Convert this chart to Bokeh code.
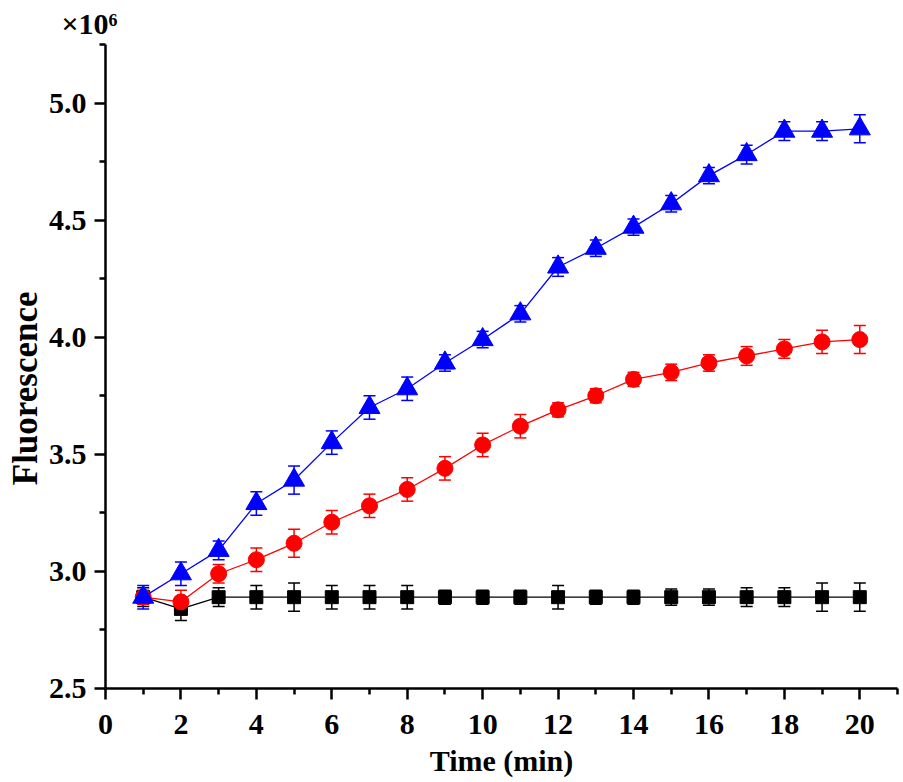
from bokeh.plotting import figure
from bokeh.models import ColumnDataSource, Whisker, TeeHead, FixedTicker, Range1d, Title, NumeralTickFormatter
from bokeh.embed import file_html
from bokeh.resources import INLINE

# ---- data ----
time_min = [1, 2, 3, 4, 5, 6, 7, 8, 9, 10, 11, 12, 13, 14, 15, 16, 17, 18, 19, 20]

control = [2.89, 2.84, 2.89, 2.89, 2.89, 2.89, 2.89, 2.89, 2.89, 2.89,
           2.89, 2.89, 2.89, 2.89, 2.89, 2.89, 2.89, 2.89, 2.89, 2.89]
control_err = [0.04, 0.05, 0.04, 0.05, 0.06, 0.05, 0.05, 0.05, 0.03, 0.03,
               0.03, 0.05, 0.03, 0.03, 0.035, 0.035, 0.04, 0.04, 0.06, 0.06]

red = [2.89, 2.87, 2.99, 3.05, 3.12, 3.21, 3.28, 3.35, 3.44, 3.54,
       3.62, 3.69, 3.75, 3.82, 3.85, 3.89, 3.92, 3.95, 3.98, 3.99]
red_err = [0.03, 0.05, 0.04, 0.05, 0.06, 0.05, 0.05, 0.05, 0.05, 0.05,
           0.05, 0.03, 0.03, 0.03, 0.035, 0.035, 0.04, 0.04, 0.05, 0.06]

blue = [2.89, 2.99, 3.09, 3.29, 3.39, 3.55, 3.70, 3.78, 3.89, 3.99,
        4.10, 4.30, 4.38, 4.47, 4.57, 4.69, 4.78, 4.88, 4.88, 4.89]
blue_err = [0.05, 0.05, 0.04, 0.05, 0.06, 0.05, 0.05, 0.05, 0.035, 0.035,
            0.035, 0.04, 0.035, 0.035, 0.035, 0.035, 0.04, 0.04, 0.04, 0.06]

x_major = [0, 2, 4, 6, 8, 10, 12, 14, 16, 18, 20]
x_minor = [1, 3, 5, 7, 9, 11, 13, 15, 17, 19, 21]
y_major = [2.5, 3.0, 3.5, 4.0, 4.5, 5.0]
y_minor = [2.75, 3.25, 3.75, 4.25, 4.75, 5.25]

FONT = "Liberation Serif"

p = figure(width=903, height=782, output_backend="svg", toolbar_location=None,
           x_range=Range1d(0, 21), y_range=Range1d(2.5, 5.25),
           min_border_left=105, min_border_right=6, min_border_top=44, min_border_bottom=94)
p.outline_line_color = None
p.xgrid.grid_line_color = None
p.ygrid.grid_line_color = None
p.background_fill_color = "white"
p.border_fill_color = "white"

for ax in (p.xaxis[0], p.yaxis[0]):
    ax.axis_line_width = 2.5
    ax.major_tick_line_width = 2.5
    ax.minor_tick_line_width = 2.5
    ax.major_tick_out = 11
    ax.major_tick_in = 0
    ax.minor_tick_out = 6
    ax.minor_tick_in = 0
    ax.major_label_text_font = FONT
    ax.major_label_text_font_style = "bold"
    ax.major_label_text_font_size = "30px"
    ax.major_label_text_color = "black"
    ax.axis_label_text_font = FONT
    ax.axis_label_text_font_style = "bold"
    ax.axis_label_text_color = "black"

p.xaxis.axis_label_text_font_size = "30px"
p.yaxis.axis_label_text_font_size = "35px"
p.xaxis.ticker = FixedTicker(ticks=x_major, minor_ticks=x_minor)
p.yaxis.ticker = FixedTicker(ticks=y_major, minor_ticks=y_minor)
p.yaxis.formatter = NumeralTickFormatter(format="0.0")
p.xaxis.axis_label = "Time (min)"
p.yaxis.axis_label = "Fluorescence\u00a0\u00a0\u00a0\u00a0\u00a0"
p.xaxis.major_label_standoff = 15
p.yaxis.major_label_standoff = 8
p.xaxis.axis_label_standoff = 7
p.yaxis.axis_label_standoff = 1

series = [
    (control, control_err, "black", "square", 13),
    (red, red_err, "#ff0000", "circle", 16),
    (blue, blue_err, "#0000ff", "triangle", 21),
]

for vals, errs, col, marker, size in series:
    src = ColumnDataSource(dict(
        x=time_min, y=vals,
        lower=[v - e for v, e in zip(vals, errs)],
        upper=[v + e for v, e in zip(vals, errs)],
    ))
    w = Whisker(source=src, base="x", lower="lower", upper="upper",
                line_color=col, line_width=1.5,
                upper_head=TeeHead(size=12, line_color=col, line_width=1.5),
                lower_head=TeeHead(size=12, line_color=col, line_width=1.5))
    p.add_layout(w)
    p.line("x", "y", source=src, line_color=col, line_width=1.3)
    p.scatter("x", "y", source=src, marker=marker, size=size,
              fill_color=col, line_color=col)

p.title = Title(text="\u00d710\u2076", align="left", offset=-44,
                text_font=FONT, text_font_style="bold", text_font_size="30px",
                text_color="black", standoff=9)

open("out.html", "w").write(file_html(p, INLINE))
